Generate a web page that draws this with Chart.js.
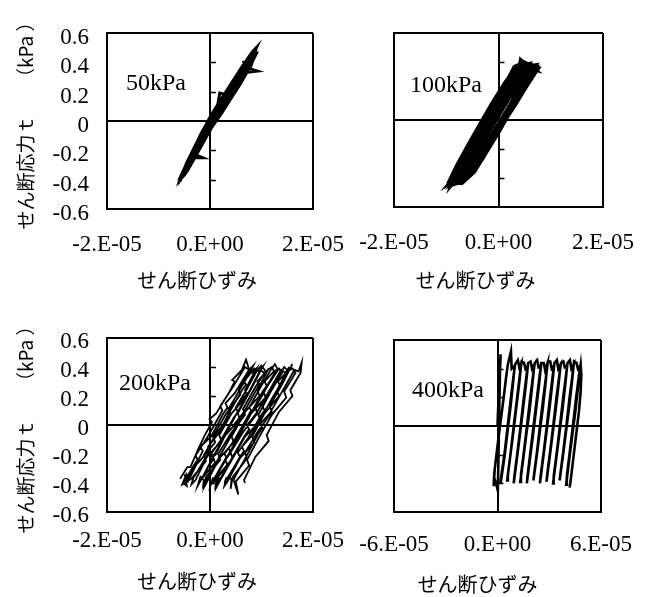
<!DOCTYPE html>
<html>
<head>
<meta charset="utf-8">
<script src="https://cdn.jsdelivr.net/npm/chart.js@4.4.0/dist/chart.umd.min.js"></script>
<style>
  body { margin: 0; background: #fff; }
  #wrap { position: relative; width: 646px; height: 597px; overflow: hidden; }
  canvas { position: absolute; }
</style>
</head>
<body>
<div id="wrap">
  <canvas id="p50" width="360" height="300" style="left:0;top:0"></canvas>
  <canvas id="p100" width="306" height="300" style="left:340px;top:0"></canvas>
  <canvas id="p200" width="360" height="297" style="left:0;top:300px"></canvas>
  <canvas id="p400" width="306" height="297" style="left:340px;top:300px"></canvas>
</div>
<script>
// tick values / labels
const yTicks = [-0.6, -0.4, -0.2, 0, 0.2, 0.4, 0.6];
const yLabels = ['-0.6', '-0.4', '-0.2', '0', '0.2', '0.4', '0.6'];
const xTicksNarrow = [-2e-5, 0, 2e-5];
const xLabelsNarrow = ['-2.E-05', '0.E+00', '2.E-05'];
const xTicksWide = [-6e-5, 0, 6e-5];
const xLabelsWide = ['-6.E-05', '0.E+00', '6.E-05'];

const yTitle = 'せん断応力ｔ　　（kPa ）';
const xTitle = 'せん断ひずみ';

// loops: [shear strain (x1e-6), shear stress (kPa)]
const loop50 = [
  [0.0, -0.02], [2.0, 0.08], [4.0, 0.19], [6.0, 0.30], [7.6, 0.40], [9.0, 0.50], [8.2, 0.47], [6.2, 0.37],
  [4.2, 0.26], [2.2, 0.15], [0.2, 0.04], [-1.6, -0.08], [-3.2, -0.19], [-4.6, -0.29], [-5.8, -0.40], [-4.8, -0.36],
  [-3.4, -0.27], [-2.0, -0.18], [-0.6, -0.08], [1.2, 0.03], [3.0, 0.13], [5.0, 0.24], [6.8, 0.33], [9.2, 0.34],
  [7.4, 0.36], [7.8, 0.41], [6.6, 0.40], [7.0, 0.37], [5.2, 0.29], [3.2, 0.18], [1.9, 0.19], [1.4, 0.09],
  [-0.4, -0.02], [-2.0, -0.13], [-3.4, -0.22], [-1.4, -0.25], [-3.6, -0.25], [-4.8, -0.33], [-5.5, -0.38], [-4.2, -0.32],
  [-2.6, -0.22], [-1.0, -0.12], [0.6, -0.01], [2.6, 0.11], [4.6, 0.22], [6.6, 0.33], [8.4, 0.44], [8.8, 0.48],
  [7.2, 0.42], [5.4, 0.32], [3.6, 0.21], [1.6, 0.10], [-0.2, 0.00], [-1.8, -0.10], [-3.0, -0.18], [-4.2, -0.28],
  [-5.0, -0.36], [-5.6, -0.39], [-4.4, -0.34], [-2.8, -0.24], [-1.2, -0.14], [0.4, -0.04], [2.4, 0.07], [4.4, 0.18],
  [6.4, 0.29], [8.0, 0.38], [8.6, 0.45], [7.0, 0.39], [5.0, 0.28], [3.0, 0.17], [1.0, 0.06], [-0.8, -0.05],
  [-2.4, -0.15], [-3.8, -0.24], [-5.2, -0.34],
  [-5.4, -0.37], [-3.8, -0.26], [-2.2, -0.16], [-0.4, -0.05], [1.6, 0.06], [3.4, 0.16], [5.4, 0.27], [7.2, 0.37],
  [8.4, 0.43], [6.6, 0.37], [4.8, 0.27], [2.8, 0.16], [0.8, 0.05], [-1.2, -0.07], [-2.8, -0.17], [-4.4, -0.28],
  [-5.6, -0.37], [-4.6, -0.34], [-3.0, -0.25], [-1.4, -0.15], [0.2, -0.05], [2.2, 0.05], [4.2, 0.16], [6.0, 0.26],
  [7.6, 0.36], [9.0, 0.46], [8.0, 0.45], [6.0, 0.35], [4.0, 0.24], [2.0, 0.13], [0.0, 0.02], [-1.8, -0.09],
  [-3.4, -0.21], [-4.8, -0.31], [-5.8, -0.41]
];

const loop100 = [
  [-9.9, -0.46], [-7.2, -0.43], [-4.8, -0.34], [-2.6, -0.22], [-0.3, -0.08], [1.6, 0.03], [3.6, 0.15], [5.6, 0.27],
  [7.0, 0.34], [7.7, 0.36], [6.0, 0.39], [3.6, 0.36], [1.6, 0.24], [-0.6, 0.10], [-2.8, -0.03], [-4.8, -0.16],
  [-6.8, -0.30], [-8.6, -0.41],
  [-7.6, -0.42], [-5.8, -0.36], [-3.6, -0.24], [-1.6, -0.12], [0.6, 0.00], [2.6, 0.12], [4.4, 0.24], [5.8, 0.33],
  [6.6, 0.37], [5.0, 0.40], [3.0, 0.37], [0.8, 0.22], [-1.4, 0.08], [-3.6, -0.06], [-5.8, -0.20], [-7.8, -0.33],
  [-9.5, -0.44],
  [-8.2, -0.43], [-5.4, -0.38], [-3.0, -0.27], [-0.8, -0.13], [1.4, 0.00], [3.4, 0.11], [5.4, 0.23], [7.2, 0.33],
  [7.5, 0.37], [6.0, 0.36], [4.0, 0.27], [1.8, 0.13], [-0.6, -0.01], [-2.8, -0.14], [-5.0, -0.28], [-7.0, -0.40],
  [-8.8, -0.45],
  [-8.0, -0.44], [-6.4, -0.37], [-4.2, -0.24], [-2.0, -0.10], [0.0, 0.03], [2.0, 0.16], [4.0, 0.28], [5.4, 0.38],
  [4.2, 0.42], [3.8, 0.34], [1.6, 0.21], [-0.8, 0.06], [-3.0, -0.08], [-5.2, -0.23], [-7.2, -0.36], [-9.0, -0.45],
  [-9.2, -0.45], [-6.6, -0.40], [-4.4, -0.28], [-2.2, -0.15], [0.2, -0.01], [2.4, 0.12], [4.6, 0.26], [6.4, 0.35],
  [7.4, 0.34], [6.2, 0.38], [4.2, 0.39], [2.2, 0.28], [0.0, 0.14], [-2.2, 0.00], [-4.4, -0.14], [-6.6, -0.28],
  [-8.6, -0.40], [-9.8, -0.45],
  [-8.4, -0.42], [-6.0, -0.34], [-3.8, -0.20], [-1.0, -0.04], [1.6, 0.12], [3.8, 0.24], [5.6, 0.35], [6.8, 0.38],
  [5.0, 0.37], [3.0, 0.28], [1.0, 0.14], [-1.4, 0.00], [-3.6, -0.15], [-5.6, -0.28], [-7.6, -0.39], [-9.2, -0.46],
  [-9.0, -0.44], [-5.9, -0.40], [-3.9, -0.28], [-1.6, -0.14], [0.8, 0.00], [3.1, 0.14], [5.0, 0.26], [6.5, 0.35],
  [7.2, 0.38], [4.6, 0.38], [2.6, 0.26], [0.3, 0.12], [-2.0, -0.02], [-4.3, -0.16], [-6.6, -0.30], [-8.6, -0.42],
  [-9.6, -0.46], [-7.6, -0.40], [-5.2, -0.30], [-3.0, -0.16], [-0.8, -0.02], [1.4, 0.12], [3.4, 0.24], [5.2, 0.34],
  [6.0, 0.39], [3.2, 0.36], [1.0, 0.25], [-1.4, 0.11], [-3.8, -0.04], [-6.0, -0.18], [-8.0, -0.31], [-9.6, -0.43],
  [-7.0, -0.44], [-4.6, -0.36], [-2.2, -0.22], [0.2, -0.08], [2.4, 0.06], [4.6, 0.19], [6.6, 0.30], [7.8, 0.36],
  [6.4, 0.38], [4.4, 0.33], [2.2, 0.20], [0.0, 0.06], [-2.4, -0.09], [-4.6, -0.24], [-6.6, -0.36], [-8.4, -0.44]
];

const loop200 = [
  [-5.8, -0.37], [-4.4, -0.29], [-3.8, -0.29], [-2.2, -0.16], [-1.0, -0.07], [0.4, 0.02], [-0.1, 0.04], [1.2, 0.08],
  [3.8, 0.23], [4.8, 0.30], [4.3, 0.31], [6.2, 0.38], [7.0, 0.45], [7.7, 0.37], [5.6, 0.24], [5.9, 0.21],
  [3.0, 0.07], [0.6, -0.08], [1.0, -0.12], [-1.8, -0.24], [-2.6, -0.27], [-4.3, -0.39], [-4.8, -0.36], [-4.5, -0.42],
  [-5.2, -0.40], [-3.0, -0.27], [-2.4, -0.24], [-2.8, -0.21], [-0.6, -0.09], [1.8, 0.06], [2.4, 0.10], [2.0, 0.13],
  [4.4, 0.26], [6.8, 0.40], [7.6, 0.38], [8.4, 0.41], [7.4, 0.34], [6.2, 0.27], [3.6, 0.11], [4.0, 0.07],
  [1.2, -0.06], [-1.2, -0.21], [-0.8, -0.25], [-3.6, -0.37], [-5.4, -0.41], [-4.6, -0.34],
  [-4.3, -0.37], [-2.4, -0.25], [-1.4, -0.18], [-1.9, -0.15], [0.2, -0.08], [2.6, 0.08], [3.4, 0.12], [3.0, 0.15],
  [4.8, 0.22], [7.4, 0.37], [8.2, 0.36], [9.0, 0.39], [6.8, 0.24], [7.2, 0.20], [4.2, 0.08], [1.8, -0.07],
  [2.2, -0.11], [-0.6, -0.22], [-2.8, -0.38], [-3.6, -0.41], [-3.2, -0.36],
  [-2.9, -0.35], [-0.8, -0.22], [0.0, -0.18], [-0.4, -0.15], [1.6, -0.06], [3.8, 0.09], [6.2, 0.24], [7.0, 0.28],
  [6.6, 0.30], [8.6, 0.39], [9.5, 0.37], [10.2, 0.40], [8.0, 0.25], [5.4, 0.08], [5.8, 0.04], [3.0, -0.07],
  [0.6, -0.22], [1.0, -0.26], [-1.6, -0.37], [-2.2, -0.40], [-1.8, -0.35],
  [-2.4, -0.42], [-0.2, -0.28], [0.6, -0.24], [0.2, -0.20], [2.2, -0.10], [4.6, 0.05], [5.4, 0.09], [5.0, 0.12],
  [7.2, 0.25], [9.2, 0.38], [10.0, 0.41], [10.8, 0.37], [8.8, 0.26], [6.4, 0.11], [6.8, 0.07], [4.0, -0.06],
  [1.6, -0.20], [2.0, -0.24], [-0.8, -0.36], [-1.4, -0.44], [-1.2, -0.38],
  [-1.6, -0.37], [0.6, -0.22], [1.2, -0.20], [2.8, -0.08], [5.2, 0.08], [6.2, 0.14], [5.8, 0.16], [7.6, 0.23],
  [9.8, 0.38], [10.8, 0.35], [11.4, 0.39], [9.2, 0.24], [9.6, 0.20], [6.8, 0.09], [4.2, -0.08], [4.6, -0.12],
  [1.8, -0.23], [-0.4, -0.38], [-1.0, -0.42], [-0.6, -0.37],
  [-0.3, -0.36], [1.8, -0.22], [4.2, -0.07], [5.0, -0.03], [4.6, 0.00], [6.6, 0.09], [8.8, 0.23], [9.6, 0.28],
  [9.2, 0.30], [11.2, 0.38], [12.0, 0.40], [12.6, 0.36], [10.4, 0.23], [10.8, 0.19], [8.0, 0.08], [5.4, -0.09],
  [3.0, -0.24], [3.4, -0.28], [0.8, -0.39], [0.2, -0.41], [0.6, -0.36],
  [0.2, -0.41], [2.4, -0.27], [3.2, -0.22], [2.8, -0.20], [4.8, -0.10], [7.2, 0.05], [8.0, 0.10], [7.6, 0.12],
  [9.8, 0.26], [11.8, 0.38], [12.6, 0.42], [13.2, 0.38], [11.2, 0.27], [8.8, 0.12], [9.2, 0.08], [6.4, -0.05],
  [4.0, -0.19], [4.4, -0.23], [1.6, -0.35], [1.0, -0.45], [1.2, -0.38],
  [1.0, -0.37], [3.2, -0.23], [4.0, -0.19], [3.6, -0.16], [5.4, -0.08], [7.8, 0.07], [10.2, 0.23], [11.0, 0.27],
  [10.6, 0.30], [12.4, 0.37], [13.4, 0.39], [14.0, 0.36], [11.8, 0.23], [9.4, 0.07], [9.8, 0.03], [6.8, -0.08],
  [4.4, -0.23], [2.0, -0.38], [1.4, -0.42], [1.8, -0.37],
  [2.2, -0.36], [4.4, -0.22], [6.8, -0.07], [7.6, -0.03], [7.2, 0.00], [9.0, 0.08], [11.4, 0.23], [13.8, 0.38],
  [14.6, 0.36], [15.4, 0.40], [13.0, 0.24], [13.4, 0.20], [10.6, 0.08], [8.2, -0.08], [8.6, -0.12], [5.8, -0.23],
  [3.4, -0.39], [2.8, -0.42], [3.2, -0.36],
  [2.8, -0.40], [5.0, -0.27], [5.8, -0.22], [5.4, -0.19], [7.4, -0.09], [9.8, 0.06], [10.6, 0.10], [10.2, 0.13],
  [12.2, 0.26], [14.4, 0.40], [15.2, 0.37], [16.0, 0.42], [14.0, 0.28], [11.6, 0.13], [12.0, 0.09], [9.2, -0.05],
  [6.8, -0.19], [7.2, -0.23], [4.4, -0.36], [4.0, -0.44], [4.2, -0.37],
  [3.5, -0.37], [5.8, -0.22], [6.6, -0.18], [6.2, -0.15], [8.0, -0.08], [10.4, 0.08], [12.8, 0.23], [13.6, 0.27],
  [13.2, 0.30], [15.0, 0.37], [16.0, 0.39], [16.6, 0.36], [14.4, 0.23], [14.8, 0.19], [12.0, 0.07], [9.6, -0.08],
  [7.2, -0.24], [7.6, -0.28], [5.0, -0.39], [5.5, -0.48], [4.6, -0.38],
  [4.8, -0.36], [7.0, -0.22], [9.4, -0.06], [10.2, -0.02], [9.8, 0.01], [11.6, 0.08], [14.0, 0.23], [16.4, 0.38],
  [17.2, 0.37], [17.8, 0.43], [17.6, 0.36], [15.6, 0.24], [16.0, 0.20], [13.4, 0.09], [11.0, -0.07], [11.4, -0.11],
  [8.8, -0.22], [6.6, -0.38], [6.8, -0.40]
];

const loop400 = [
  [0.0, 0.00], [0.8, 0.25], [1.8, 0.50], [1.4, 0.36], [1.0, 0.10], [0.6, -0.20], [0.2, -0.45], [-0.8, -0.40],
  [-2.0, -0.36], [-2.2, -0.42],
  [-1.6, -0.30], [0.2, -0.12], [2.0, 0.05], [3.8, 0.22], [5.0, 0.34], [6.0, 0.43],
  [7.8, 0.52], [8.2, 0.40], [10.0, 0.42],
  [9.0, 0.30], [7.6, 0.14], [5.8, -0.04], [4.0, -0.22], [1.8, -0.40], [2.2, -0.35],
  [4.2, -0.18], [6.0, 0.01], [7.8, 0.20], [9.2, 0.34], [10.2, 0.43],
  [11.8, 0.46], [12.6, 0.41], [13.8, 0.44],
  [12.6, 0.30], [10.8, 0.12], [9.2, -0.04], [7.4, -0.21], [5.6, -0.38], [6.0, -0.34],
  [7.8, -0.17], [9.6, 0.02], [11.4, 0.20], [13.0, 0.36], [14.0, 0.45],
  [15.4, 0.44], [16.2, 0.40], [17.6, 0.42],
  [16.4, 0.28], [14.8, 0.12], [13.0, -0.06], [11.2, -0.23], [9.4, -0.40], [9.8, -0.35],
  [11.6, -0.18], [13.4, 0.00], [15.2, 0.19], [16.8, 0.35], [17.8, 0.44],
  [19.2, 0.45], [20.0, 0.40], [21.4, 0.43],
  [20.2, 0.29], [18.6, 0.11], [16.8, -0.05], [15.0, -0.22], [13.2, -0.39], [13.6, -0.34],
  [15.4, -0.17], [17.2, 0.01], [19.0, 0.20], [20.6, 0.35], [21.6, 0.44],
  [23.0, 0.46], [23.8, 0.41], [25.2, 0.42],
  [24.0, 0.28], [22.4, 0.12], [20.6, -0.06], [18.8, -0.23], [17.0, -0.40], [17.4, -0.35],
  [19.2, -0.17], [21.0, 0.01], [22.8, 0.19], [24.4, 0.35], [25.4, 0.44],
  [26.8, 0.44], [27.6, 0.39], [29.0, 0.44],
  [27.8, 0.29], [26.2, 0.12], [24.4, -0.05], [22.6, -0.22], [20.8, -0.38], [21.2, -0.34],
  [23.0, -0.17], [24.8, 0.02], [26.6, 0.20], [28.2, 0.35], [29.2, 0.45],
  [30.6, 0.45], [31.4, 0.40], [32.8, 0.42],
  [31.6, 0.28], [30.0, 0.11], [28.2, -0.06], [26.4, -0.23], [24.6, -0.40], [25.0, -0.35],
  [26.8, -0.18], [28.6, 0.00], [30.4, 0.19], [32.0, 0.35], [33.0, 0.44],
  [34.4, 0.46], [35.2, 0.40], [36.6, 0.43],
  [35.4, 0.29], [33.8, 0.12], [32.0, -0.05], [30.2, -0.22], [28.4, -0.39], [28.8, -0.34],
  [30.6, -0.17], [32.4, 0.01], [34.2, 0.20], [35.8, 0.35], [36.8, 0.44],
  [38.2, 0.45], [39.0, 0.41], [40.4, 0.42],
  [39.2, 0.28], [37.6, 0.11], [35.8, -0.06], [34.0, -0.23], [32.2, -0.40], [32.6, -0.35],
  [34.4, -0.18], [36.2, 0.00], [38.0, 0.19], [39.6, 0.34], [40.6, 0.44],
  [42.0, 0.46], [42.8, 0.40], [44.2, 0.43],
  [43.0, 0.29], [41.4, 0.12], [39.6, -0.05], [37.8, -0.22], [36.0, -0.38], [36.4, -0.34],
  [38.2, -0.17], [40.0, 0.01], [41.8, 0.20], [43.4, 0.35], [44.4, 0.45],
  [45.8, 0.44], [46.6, 0.40], [48.0, 0.42],
  [46.8, 0.28], [45.2, 0.11], [43.4, -0.06], [41.6, -0.23], [39.8, -0.41], [40.2, -0.35],
  [42.0, -0.17], [43.8, 0.01], [45.6, 0.20], [47.2, 0.35], [48.2, 0.43],
  [48.6, 0.36], [48.2, 0.24], [47.2, 0.10], [45.8, -0.04], [44.0, -0.22], [42.2, -0.40], [41.8, -0.43]
];

const serif = '"Liberation Serif", "Times New Roman", serif';
const gothic = '"Noto Sans CJK JP", sans-serif';

// short ticks on the vertical zero line, panel name and x title
const panelDecor = {
  id: 'panelDecor',
  afterDraw(chart, args, opts) {
    const { ctx, chartArea: a, scales: { x, y } } = chart;
    const x0 = x.getPixelForValue(0);
    ctx.save();
    ctx.strokeStyle = '#000';
    ctx.lineWidth = 1.5;
    y.ticks.forEach(t => {
      if (t.value === 0 || Math.abs(t.value) === 0.6) return;
      const py = Math.round(y.getPixelForValue(t.value)) + 0.5;
      ctx.beginPath();
      ctx.moveTo(x0, py);
      ctx.lineTo(x0 + 6, py);
      ctx.stroke();
    });
    ctx.fillStyle = '#000';
    ctx.font = '24px ' + serif;
    ctx.textAlign = 'left';
    ctx.textBaseline = 'alphabetic';
    ctx.fillText(opts.label, a.left + opts.labelDx, a.top + opts.labelDy);
    ctx.font = '20px ' + gothic;
    ctx.textAlign = 'center';
    ctx.textBaseline = 'middle';
    ctx.fillText(xTitle, (a.left + a.right) / 2 + opts.titleDx, a.bottom + opts.titleDy);
    ctx.restore();
  }
};

const mainLine = (t) => (t.tick && (t.tick.value === 0 || Math.abs(t.tick.value) === 0.6)) ? '#000' : 'rgba(0,0,0,0)';

function makePanel(id, loop, o) {
  new Chart(document.getElementById(id), {
    type: 'scatter',
    data: {
      datasets: [{
        data: loop.map(p => ({ x: p[0] * 1e-6, y: p[1] })),
        showLine: true,
        borderColor: '#000',
        borderWidth: o.lineWidth,
        pointRadius: 0,
        tension: 0
      }]
    },
    options: {
      responsive: false,
      animation: false,
      events: [],
      layout: { autoPadding: false, padding: { top: o.top, right: o.right, left: 0, bottom: 0 } },
      plugins: {
        legend: { display: false },
        tooltip: { enabled: false },
        panelDecor: { label: o.label, labelDx: o.labelDx, labelDy: o.labelDy, titleDx: o.titleDx, titleDy: o.titleDy }
      },
      scales: {
        x: {
          type: 'linear',
          min: o.xTicks[0],
          max: o.xTicks[2],
          afterBuildTicks: s => { s.ticks = o.xTicks.map(v => ({ value: v })); },
          afterFit: s => { s.height = o.xHeight; s.paddingLeft = 0; s.paddingRight = 0; },
          ticks: {
            callback: (v, i) => o.xLabels[i],
            color: '#000',
            font: { family: serif, size: 23 },
            padding: o.xPad,
            maxRotation: 0,
            autoSkip: false
          },
          grid: { color: '#000', lineWidth: 2, drawTicks: false },
          border: { display: true, color: '#000', width: 2 }
        },
        y: {
          type: 'linear',
          min: -0.6,
          max: 0.6,
          afterBuildTicks: s => { s.ticks = yTicks.map(v => ({ value: v })); },
          afterFit: s => { s.width = o.yWidth; s.paddingTop = 0; s.paddingBottom = 0; },
          ticks: {
            display: o.showY,
            callback: (v, i) => yLabels[i],
            color: '#000',
            font: { family: serif, size: 23 },
            padding: 18,
            labelOffset: o.yLabelOffset,
            autoSkip: false
          },
          grid: { color: mainLine, lineWidth: 2, drawTicks: false },
          border: { display: true, color: '#000', width: 2 },
          title: {
            display: o.showY,
            text: yTitle,
            color: '#000',
            font: { family: gothic, size: 19 },
            padding: { top: 14, bottom: 0 }
          }
        }
      }
    },
    plugins: [panelDecor]
  });
}

makePanel('p50', loop50, {
  top: 33, right: 47, yWidth: 107, xHeight: 91, xPad: 22, showY: true, yLabelOffset: 5, lineWidth: 3,
  xTicks: xTicksNarrow, xLabels: xLabelsNarrow,
  label: '50kPa', labelDx: 19, labelDy: 57, titleDx: -13, titleDy: 71
});
makePanel('p100', loop100, {
  top: 33, right: 43, yWidth: 54, xHeight: 93, xPad: 22, showY: false, yLabelOffset: 5, lineWidth: 3,
  xTicks: xTicksNarrow, xLabels: xLabelsNarrow,
  label: '100kPa', labelDx: 16, labelDy: 59, titleDx: -23, titleDy: 73
});
makePanel('p200', loop200, {
  top: 38, right: 47, yWidth: 107, xHeight: 85, xPad: 15, showY: true, yLabelOffset: 4, lineWidth: 1.8,
  xTicks: xTicksNarrow, xLabels: xLabelsNarrow,
  label: '200kPa', labelDx: 12, labelDy: 52, titleDx: -13, titleDy: 69
});
makePanel('p400', loop400, {
  top: 40, right: 45, yWidth: 54, xHeight: 85, xPad: 19, showY: false, yLabelOffset: 4, lineWidth: 2.6,
  xTicks: xTicksWide, xLabels: xLabelsWide,
  label: '400kPa', labelDx: 18, labelDy: 57, titleDx: -20, titleDy: 72
});
</script>
</body>
</html>
